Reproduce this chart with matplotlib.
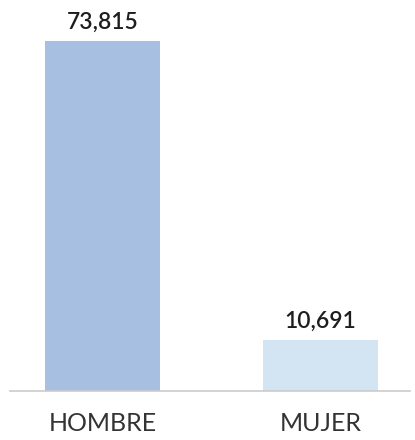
import matplotlib

matplotlib.use("Agg")
import matplotlib.pyplot as plt

categorias = ["HOMBRE", "MUJER"]
valores = [73815, 10691]
colores = ["#a7bfe0", "#d3e5f3"]

plt.rcParams["font.family"] = ["Lato", "DejaVu Sans"]

fig = plt.figure(figsize=(4.15, 4.4), dpi=100)
ax = fig.add_axes([10 / 415, 49 / 440, 400 / 415, 391 / 440])

x = range(len(categorias))
ax.bar(x, valores, width=0.528, color=colores, zorder=2)
for xi, v in zip(x, valores):
    ax.annotate(f"{v:,}", (xi, v), xytext=(0, 6), textcoords="offset points",
                ha="center", va="bottom", fontsize=16.5, fontweight="semibold",
                color="#1e1e1e")

ax.set_xlim(-0.424, 1.41)
ax.set_ylim(0, 82460)
ax.set_xticks(list(x))
ax.set_xticklabels(categorias, fontsize=18, color="#333333")
ax.tick_params(axis="x", length=0, pad=15)
ax.set_yticks([])
for s in ["top", "right", "left"]:
    ax.spines[s].set_visible(False)
ax.spines["bottom"].set_color("#cccccc")
ax.spines["bottom"].set_linewidth(1.2)

fig.savefig("out.png", dpi=100)
